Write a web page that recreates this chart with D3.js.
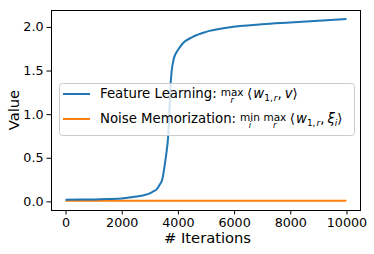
<!DOCTYPE html>
<html><head><meta charset="utf-8">
<script src="https://cdn.jsdelivr.net/npm/d3@7"></script>
<style>body{margin:0;background:#fff}svg{display:block}text{font-family:"DejaVu Sans",sans-serif;white-space:pre}</style>
</head><body>
<svg id="c" width="374" height="254"></svg>
<script>
const iterations = [0,500,1000,1500,2000,2400,2900,3100,3250,3350,3450,3550,3600,3650,3700,3730,3780,3850,3950,4000,4170,4530,5000,5800,7000,8000,9000,10000];
const featureLearning = [0.018,0.02,0.022,0.026,0.032,0.05,0.08,0.11,0.14,0.19,0.26,0.46,0.58,0.73,1.05,1.29,1.5,1.63,1.71,1.735,1.81,1.886,1.943,1.993,2.03,2.05,2.07,2.09];
const noiseMemorization = iterations.map(() => 0.006);
const xTicks = [0,2000,4000,6000,8000,10000];
const yTicks = [0.0,0.5,1.0,1.5,2.0];

const svg = d3.select("#c");
const L = 51, R = 360, T = 10, B = 210;
const x = d3.scaleLinear().domain([-500,10500]).range([L+0.5,R+0.5]);
const y = d3.scaleLinear().domain([-0.099,2.194]).range([B,T]);

const line = d3.line().x((d,i)=>x(iterations[i])).y(d=>y(d)).curve(d3.curveMonotoneX);
const g = svg.append("g");
g.append("path").attr("d", line(noiseMemorization)).attr("fill","none").attr("stroke","#ff7f0e").attr("stroke-width",2);
g.append("path").attr("d", line(featureLearning)).attr("fill","none").attr("stroke","#1f77b4").attr("stroke-width",2);

// axes
const xa = svg.append("g").attr("transform",`translate(0,${B})`)
  .call(d3.axisBottom(x).tickValues(xTicks).tickFormat(d3.format("d")).tickSize(4.5).tickPadding(3));
const ya = svg.append("g").attr("transform",`translate(${L},0)`)
  .call(d3.axisLeft(y).tickValues(yTicks).tickFormat(d3.format(".1f")).tickSize(4.5).tickPadding(3));
[xa,ya].forEach(a=>{a.select(".domain").remove();a.selectAll("text").attr("font-size",12.7).attr("fill","#000").attr("font-family","DejaVu Sans");a.selectAll("line").attr("stroke","#000");});
svg.append("rect").attr("x",L+0.5).attr("y",T+0.5).attr("width",R-L).attr("height",B-T).attr("fill","none").attr("stroke","#000").attr("stroke-width",1);

svg.append("text").attr("x",(L+R)/2+2).attr("y",243).attr("text-anchor","middle").attr("font-size",14.7).text("# Iterations");
svg.append("text").attr("transform","translate(19,110) rotate(-90)").attr("text-anchor","middle").attr("font-size",14.7).text("Value");

// legend
svg.append("rect").attr("x",59.5).attr("y",83.5).attr("width",295).attr("height",52).attr("rx",3)
  .attr("fill","#fff").attr("fill-opacity",0.8).attr("stroke","#ccc").attr("stroke-width",1);
const leg = svg.append("g");
const entries = [
  {color:"#1f77b4", y:98, label:"Feature Learning:", ops:[["max","r"]], inner:"v"},
  {color:"#ff7f0e", y:123, label:"Noise Memorization:", ops:[["min","i"],["max","r"]], inner:"ξ"}
];
entries.forEach(e=>{
  leg.append("line").attr("x1",63).attr("x2",90).attr("y1",e.y-4).attr("y2",e.y-4).attr("stroke",e.color).attr("stroke-width",2);
  let cx = 100;
  const put = (txt, size, dy, italic) => {
    const t = leg.append("text").attr("x",cx).attr("y",e.y+dy).attr("font-size",size).attr("font-style",italic?"italic":"normal").text(txt);
    const w = t.node().getComputedTextLength(); return {t,w};
  };
  let p = put(e.label,13.3,0,false); cx += p.w + 4;
  e.ops.forEach(([op,sub])=>{
    const o = put(op,10.5,-2.5,false);
    leg.append("text").attr("x",cx+o.w/2).attr("y",e.y+5).attr("text-anchor","middle").attr("font-size",8.5).attr("font-style","italic").text(sub);
    cx += o.w + 3.5;
  });
  p = put("⟨",13.3,0,false); cx += p.w+1;
  p = put("w",13.3,0,true); cx += p.w;
  p = put("1,",9,2.5,false); cx += p.w+1;
  p = put("r",9,2.5,true); cx += p.w;
  p = put(",",13.3,0,false); cx += p.w+3;
  p = put(e.inner,13.3,0,true); cx += p.w;
  if (e.inner==="ξ"){ p = put("i",9,2.5,true); cx += p.w; }
  p = put("⟩",13.3,0,false);
});
</script>
</body></html>
